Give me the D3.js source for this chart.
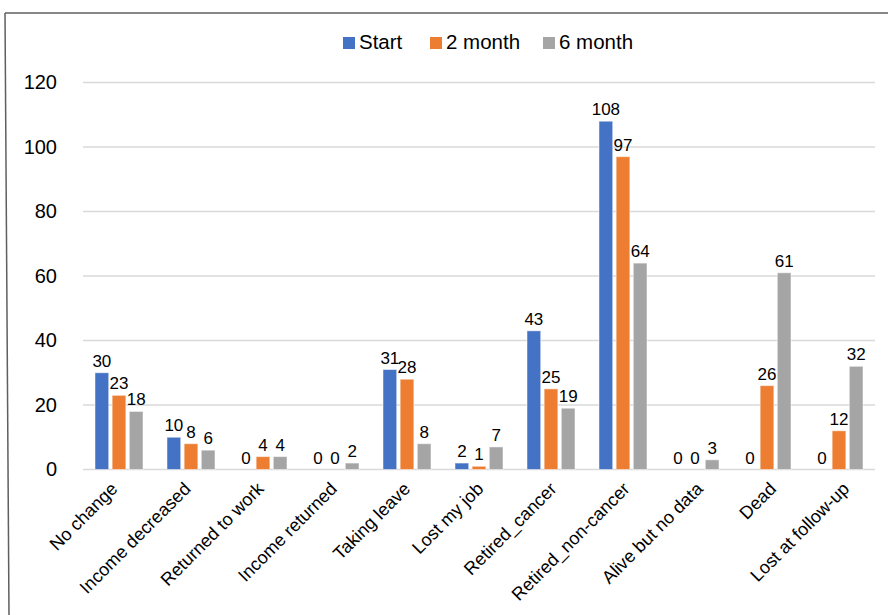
<!DOCTYPE html>
<html>
<head>
<meta charset="utf-8">
<script src="https://cdn.jsdelivr.net/npm/d3@7"></script>
<style>
  body { margin: 0; background: #fff; }
  text { font-family: "Liberation Sans", Arial, sans-serif; fill: #000; }
</style>
</head>
<body>
<script>
// DATA
const categories = ["No change", "Income decreased", "Returned to work", "Income returned",
    "Taking leave", "Lost my job", "Retired_cancer", "Retired_non-cancer",
    "Alive but no data", "Dead", "Lost at follow-up"];
const seriesNames = ["Start", "2 month", "6 month"];
const startVals = [30, 10, 0, 0, 31, 2, 43, 108, 0, 0, 0];
const month2Vals = [23, 8, 4, 0, 28, 1, 25, 97, 0, 26, 12];
const month6Vals = [18, 6, 4, 2, 8, 7, 19, 64, 3, 61, 32];
const yTicks = [0, 20, 40, 60, 80, 100, 120];
const colors = ["#4472C4", "#ED7D31", "#A5A5A5"];

const seriesVals = [startVals, month2Vals, month6Vals];

// SVG
const W = 888, H = 615;
const svg = d3.select("body").append("svg")
    .attr("width", W)
    .attr("height", H);

// frame (top and left edges visible)
svg.append("line").attr("x1", 5).attr("y1", 13).attr("x2", W).attr("y2", 13)
    .attr("stroke", "#5f5f5f").attr("stroke-width", 1.5);
svg.append("line").attr("x1", 5).attr("y1", 13).attr("x2", 9).attr("y2", H)
    .attr("stroke", "#5f5f5f").attr("stroke-width", 1.5);

// SCALES
const plotLeft = 83, plotRight = 875;
const x = d3.scaleBand()
    .domain(categories)
    .range([plotLeft, plotRight]);

// rotated labels drift slightly right of the bars in the original
const xLabel = d3.scaleBand()
    .domain(categories)
    .range([plotLeft - 1, plotRight + 12]);

const y = d3.scaleLinear()
    .domain([0, 120])
    .range([469.5, 82.5]);

const xSub = d3.scaleBand()
    .domain(seriesNames)
    .range([-24, 24])
    .paddingInner(0.2);

// GRIDLINES
svg.append("g")
    .selectAll("line")
    .data(yTicks)
    .join("line")
    .attr("x1", plotLeft)
    .attr("x2", plotRight)
    .attr("y1", d => y(d))
    .attr("y2", d => y(d))
    .attr("stroke", "#d9d9d9")
    .attr("stroke-width", 1.3);

// Y AXIS LABELS
const yAxis = d3.axisLeft(y).tickValues(yTicks).tickSize(0).tickPadding(0);
const yG = svg.append("g")
    .attr("transform", "translate(57,0)")
    .call(yAxis);
yG.select(".domain").remove();
yG.selectAll("text")
    .attr("font-size", "20px")
    .attr("font-family", "Liberation Sans, Arial, sans-serif")
    .attr("fill", "#000");

// BARS
const groups = svg.append("g")
    .selectAll("g")
    .data(categories)
    .join("g")
    .attr("transform", d => `translate(${x(d) + x.bandwidth() / 2},0)`);

groups.selectAll("rect")
    .data((c, i) => seriesNames.map((s, j) => ({ s, j, v: seriesVals[j][i] })))
    .join("rect")
    .attr("x", d => xSub(d.s))
    .attr("width", xSub.bandwidth())
    .attr("y", d => y(d.v))
    .attr("height", d => y(0) - y(d.v))
    .attr("fill", d => colors[d.j])
    .attr("stroke", "#fff")
    .attr("stroke-opacity", 0.5)
    .attr("stroke-width", 1);

// VALUE LABELS
groups.selectAll("text.val")
    .data((c, i) => seriesNames.map((s, j) => ({ s, j, v: seriesVals[j][i] })))
    .join("text")
    .attr("class", "val")
    .attr("x", d => xSub(d.s) + xSub.bandwidth() / 2)
    .attr("y", d => y(d.v) - 6)
    .attr("text-anchor", "middle")
    .attr("font-size", "17px")
    .text(d => d.v);

// X AXIS LABELS
svg.append("g")
    .selectAll("text")
    .data(categories)
    .join("text")
    .attr("transform", d => `translate(${xLabel(d) + xLabel.bandwidth() / 2},490) rotate(-45)`)
    .attr("text-anchor", "end")
    .attr("font-size", "18px")
    .text(d => d);

// LEGEND
const legendItems = [
    { name: seriesNames[0], x: 343 },
    { name: seriesNames[1], x: 430 },
    { name: seriesNames[2], x: 543 }
];
const legend = svg.append("g");
legendItems.forEach((item, i) => {
    legend.append("rect")
        .attr("x", item.x)
        .attr("y", 37)
        .attr("width", 12)
        .attr("height", 12)
        .attr("fill", colors[i]);
    legend.append("text")
        .attr("x", item.x + 16)
        .attr("y", 49)
        .attr("font-size", "20.5px")
        .text(item.name);
});
</script>
</body>
</html>
